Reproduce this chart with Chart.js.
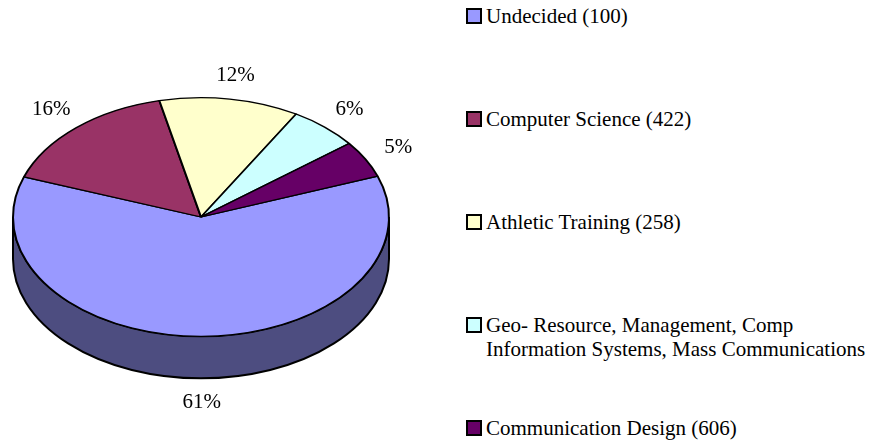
<!DOCTYPE html>
<html>
<head>
<meta charset="utf-8">
<script src="https://cdn.jsdelivr.net/npm/chart.js@4.4.0/dist/chart.umd.min.js"></script>
<style>
  body { margin: 0; background: #fff; font-family: "Liberation Serif", "Times New Roman", serif; }
  #wrap { position: relative; width: 878px; height: 444px; }
  #pieBox { position: absolute; left: 0; top: 0; width: 440px; height: 444px; }
  #legend { position: absolute; left: 466px; top: 0; }
  .item { position: absolute; left: 0; display: flex; align-items: flex-start; font-size: 21px; line-height: 24px; white-space: nowrap; color: #000; }
  .box { width: 12px; height: 12px; border: 2px solid #000; margin-top: 4px; margin-right: 4px; flex: none; }
</style>
</head>
<body>
<div id="wrap">
  <div id="pieBox"><canvas id="pieChart"></canvas></div>
  <div id="legend"></div>
</div>
<script>
// dữ liệu
const labels = [
  'Undecided (100)',
  'Computer Science (422)',
  'Athletic Training (258)',
  ['Geo- Resource, Management, Comp', 'Information Systems, Mass Communications'],
  'Communication Design (606)'
];
const shares = [61, 16, 12, 6, 5];
const colors = ['#9999FF', '#993366', '#FFFFCC', '#CCFFFF', '#660066'];

const TILT = 120 / 189;   // độ dẹt của mặt bánh
const DEPTH = 42;         // độ dày của bánh

function darker(hex) {
  const n = parseInt(hex.slice(1), 16);
  const r = (n >> 16) & 255, g = (n >> 8) & 255, b = n & 255;
  return `rgb(${Math.round(r / 2)}, ${Math.round(g / 2)}, ${Math.round(b / 2)})`;
}

// vẽ thành bánh + ép dẹt mặt trên để giả 3D
const pie3d = {
  id: 'pie3d',
  beforeDatasetsDraw(chart) {
    const ctx = chart.ctx;
    const arcs = chart.getDatasetMeta(0).data;
    ctx.save();
    arcs.forEach((arc, i) => {
      const { x, y, startAngle, endAngle, outerRadius } = arc;
      for (let k = -1; k <= 1; k++) {
        const a1 = Math.max(startAngle + k * 2 * Math.PI, 0);
        const a2 = Math.min(endAngle + k * 2 * Math.PI, Math.PI);
        if (a2 <= a1) continue;
        ctx.beginPath();
        ctx.ellipse(x, y, outerRadius, outerRadius * TILT, 0, a1, a2);
        ctx.ellipse(x, y + DEPTH, outerRadius, outerRadius * TILT, 0, a2, a1, true);
        ctx.closePath();
        ctx.fillStyle = darker(colors[i]);
        ctx.fill();
        ctx.lineWidth = 2;
        ctx.strokeStyle = '#000';
        ctx.stroke();
      }
    });
    ctx.restore();

    ctx.save();
    const { x, y } = arcs[0];
    ctx.translate(x, y);
    ctx.scale(1, TILT);
    ctx.translate(-x, -y);
  },
  afterDatasetsDraw(chart) {
    const ctx = chart.ctx;
    ctx.restore();

    // nhãn phần trăm
    const arcs = chart.getDatasetMeta(0).data;
    const total = shares.reduce((a, b) => a + b, 0);
    ctx.save();
    ctx.font = '21px "Liberation Serif", "Times New Roman", serif';
    ctx.fillStyle = '#000';
    ctx.textAlign = 'center';
    ctx.textBaseline = 'middle';
    arcs.forEach((arc, i) => {
      const mid = (arc.startAngle + arc.endAngle) / 2;
      const r = arc.outerRadius * 1.2;
      const s = Math.sin(mid);
      const lx = arc.x + r * Math.cos(mid);
      const ly = arc.y + r * TILT * s + (s > 0 ? DEPTH * s : 0);
      ctx.fillText(Math.round(shares[i] / total * 100) + '%', lx, ly);
    });
    ctx.restore();
  }
};

new Chart(document.getElementById('pieChart'), {
  type: 'pie',
  data: {
    labels: labels,
    datasets: [{
      data: shares,
      backgroundColor: colors,
      borderColor: '#000',
      borderWidth: 2
    }]
  },
  options: {
    responsive: true,
    maintainAspectRatio: false,
    animation: false,
    events: [],
    rotation: 70,
    layout: { padding: { left: 12, right: 50, top: 0, bottom: 10 } },
    plugins: {
      legend: { display: false },
      tooltip: { enabled: false }
    }
  },
  plugins: [pie3d]
});

// chú thích bên phải
const legendEl = document.getElementById('legend');
labels.forEach((lab, i) => {
  const item = document.createElement('div');
  item.className = 'item';
  item.style.top = (4 + i * 103) + 'px';
  const box = document.createElement('div');
  box.className = 'box';
  box.style.background = colors[i];
  const txt = document.createElement('div');
  txt.innerHTML = Array.isArray(lab) ? lab.join('<br>') : lab;
  item.appendChild(box);
  item.appendChild(txt);
  legendEl.appendChild(item);
});
</script>
</body>
</html>
